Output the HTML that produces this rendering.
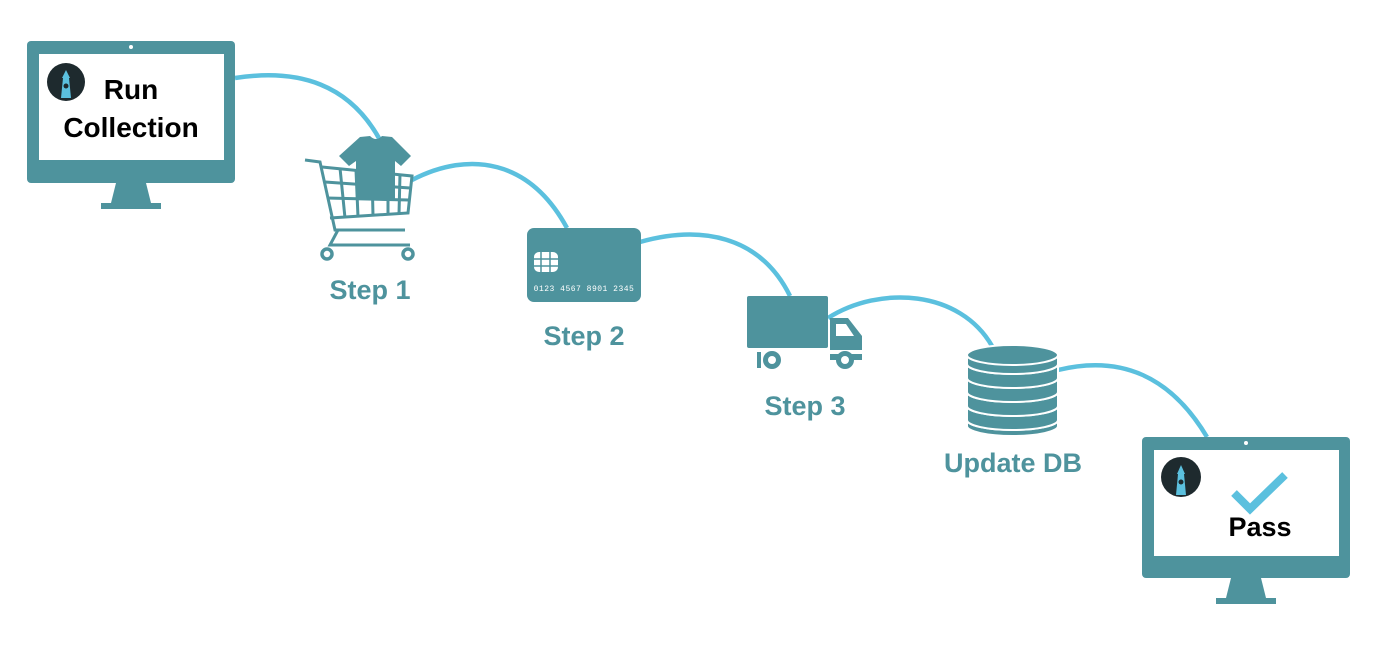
<!DOCTYPE html>
<html><head><meta charset="utf-8"><style>
html,body{margin:0;padding:0;background:#fff;}
svg{display:block}
</style></head><body>
<svg width="1397" height="646" viewBox="0 0 1397 646" xmlns="http://www.w3.org/2000/svg" font-family="'Liberation Sans', sans-serif">
<!-- connectors -->
<g fill="none" stroke="#5BC0DE" stroke-width="4.5">
<path d="M235,78 C300,68 350,85 380,140"/>
<path d="M412,180 C470,150 530,160 567,228"/>
<path d="M640,242 C700,225 760,235 790,296"/>
<path d="M828,318 C880,285 960,290 992,346"/>
<path d="M1058,370 C1120,355 1170,375 1207,437"/>
</g>
<!-- monitor 1 -->
<rect x="27" y="41" width="208" height="142" rx="4" fill="#4E939D"/>
<rect x="39" y="54" width="185" height="106" fill="#fff"/>
<circle cx="131" cy="47" r="2" fill="#fff"/>
<polygon points="116,183 146,183 151,203 111,203" fill="#4E939D"/>
<rect x="101" y="203" width="60" height="6" fill="#4E939D"/>
<circle cx="66" cy="82" r="19" fill="#1E2A2E"/>
<path d="M61,98 L63,78 L69,78 L71,98 Z" fill="#5BC0DE"/>
<path d="M62,78 L66,70 L70,78 Z" fill="#5BC0DE"/>
<circle cx="66" cy="86" r="2.5" fill="#1E2A2E"/>
<text x="131" y="99" font-size="28" font-weight="bold" text-anchor="middle" fill="#000">Run</text>
<text x="131" y="137" font-size="28" font-weight="bold" text-anchor="middle" fill="#000">Collection</text>
<!-- cart -->
<g fill="none" stroke="#4E939D" stroke-width="3">
<path d="M305,160 L320,162 L335,230 L405,230"/>
<path d="M322,167 L412,176 L408,213 L330,218"/>
<path d="M325,182 L410,188 M327,198 L409,200"/>
<path d="M340,168 L345,218 M356,170 L358,217 M372,171 L373,216 M388,173 L388,215 M400,174 L399,214"/>
<path d="M338,230 L330,245 L410,245"/>
</g>
<circle cx="327" cy="254" r="5" fill="none" stroke="#4E939D" stroke-width="3.5"/>
<circle cx="408" cy="254" r="5" fill="none" stroke="#4E939D" stroke-width="3.5"/>
<path d="M360,137 L370,136 Q376,142 382,136 L392,137 L411,156 L401,166 L395,161 L395,200 L356,200 L356,161 L349,166 L339,156 Z" fill="#4E939D"/>
<text x="370" y="299" font-size="27" font-weight="bold" text-anchor="middle" fill="#4E939D">Step 1</text>
<!-- card -->
<rect x="527" y="228" width="114" height="74" rx="7" fill="#4E939D"/>
<rect x="534" y="252" width="24" height="20" rx="5" fill="#fff"/>
<path d="M534,259 H558 M534,266 H558 M541,252 V272 M550,252 V272" stroke="#4E939D" stroke-width="1.5"/>
<text x="584" y="291" font-size="8" text-anchor="middle" fill="#fff" font-family="'Liberation Mono', monospace" letter-spacing="0.5">0123 4567 8901 2345</text>
<text x="584" y="345" font-size="27" font-weight="bold" text-anchor="middle" fill="#4E939D">Step 2</text>
<!-- truck -->
<rect x="747" y="296" width="81" height="52" rx="2" fill="#4E939D"/>
<path d="M830,318 L848,318 L862,336 L862,360 L830,360 Z" fill="#4E939D"/>
<path d="M836,324 L846,324 L854,336 L836,336 Z" fill="#fff"/>
<rect x="747" y="350" width="115" height="4" fill="#fff"/>
<circle cx="772" cy="360" r="9" fill="#4E939D"/><circle cx="772" cy="360" r="4" fill="#fff"/>
<circle cx="845" cy="360" r="9" fill="#4E939D"/><circle cx="845" cy="360" r="4" fill="#fff"/>
<rect x="757" y="352" width="4" height="16" fill="#4E939D"/>
<text x="805" y="415" font-size="27" font-weight="bold" text-anchor="middle" fill="#4E939D">Step 3</text>
<!-- db -->
<g fill="#4E939D" stroke="#fff" stroke-width="2">
<path d="M967,420 A45.5,10 0 0 0 1058,420 V426 A45.5,10 0 0 1 967,426 Z"/>
<path d="M967,406 V420 A45.5,10 0 0 0 1058,420 V406 A45.5,10 0 0 1 967,406 Z"/>
<path d="M967,392 V406 A45.5,10 0 0 0 1058,406 V392 A45.5,10 0 0 1 967,392 Z"/>
<path d="M967,378 V392 A45.5,10 0 0 0 1058,392 V378 A45.5,10 0 0 1 967,378 Z"/>
<path d="M967,364 V378 A45.5,10 0 0 0 1058,378 V364 A45.5,10 0 0 1 967,364 Z"/>
<path d="M967,355 V364 A45.5,10 0 0 0 1058,364 V355 Z"/>
<ellipse cx="1012.5" cy="355" rx="45.5" ry="10"/>
</g>
<text x="1013" y="472" font-size="27" font-weight="bold" text-anchor="middle" fill="#4E939D">Update DB</text>
<!-- monitor 2 -->
<rect x="1142" y="437" width="208" height="141" rx="4" fill="#4E939D"/>
<rect x="1154" y="450" width="185" height="106" fill="#fff"/>
<circle cx="1246" cy="443" r="2" fill="#fff"/>
<polygon points="1231,578 1261,578 1266,598 1226,598" fill="#4E939D"/>
<rect x="1216" y="598" width="60" height="6" fill="#4E939D"/>
<circle cx="1181" cy="477" r="20" fill="#1E2A2E"/>
<path d="M1176,495 L1178,474 L1184,474 L1186,495 Z" fill="#5BC0DE"/>
<path d="M1177,474 L1181,465 L1185,474 Z" fill="#5BC0DE"/>
<circle cx="1181" cy="482" r="2.5" fill="#1E2A2E"/>
<path d="M1234,493 L1250,509 L1285,475" fill="none" stroke="#5BC0DE" stroke-width="8"/>
<text x="1260" y="536" font-size="27" font-weight="bold" text-anchor="middle" fill="#000">Pass</text>
</svg>
</body></html>
